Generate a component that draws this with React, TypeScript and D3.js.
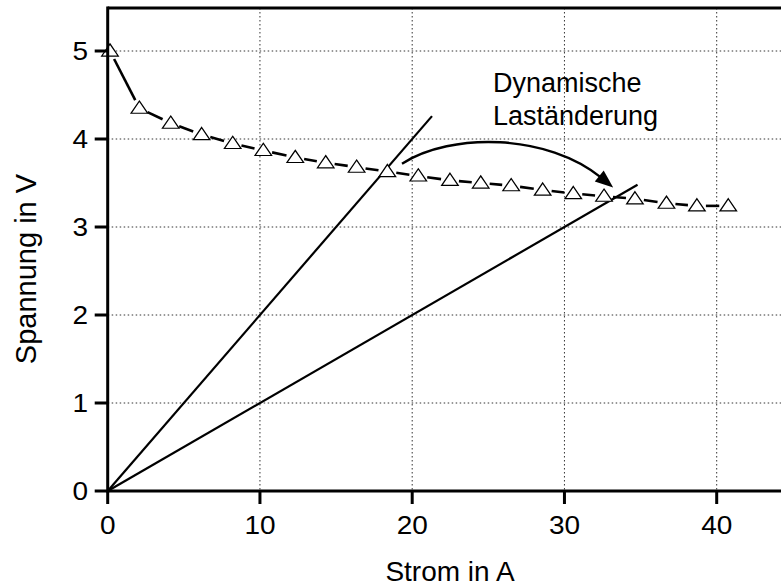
import React from "react";
import * as d3 from "d3";

// Measured battery voltage under increasing current
const currentA = [0.15, 2.08, 4.14, 6.17, 8.21, 10.22, 12.32, 14.32, 16.35, 18.37, 20.4, 22.48, 24.5, 26.5, 28.57, 30.58, 32.6, 34.63, 36.7, 38.7, 40.76];
const voltageV = [5.0, 4.35, 4.18, 4.05, 3.95, 3.87, 3.79, 3.73, 3.68, 3.63, 3.58, 3.53, 3.5, 3.47, 3.42, 3.38, 3.35, 3.32, 3.27, 3.24, 3.24];

// Load lines U = R * I, drawn from the origin up to iMax
const loadResistance = [0.2, 0.1];
const loadMaxCurrent = [21.3, 34.8];

const xTicks = [0, 10, 20, 30, 40];
const yTicks = [0, 1, 2, 3, 4, 5];

// Curved arrow for the load change (cubic Bézier in data units)
const arrowPath: [number, number][] = [
  [19.33, 3.72],
  [22.6, 4.08],
  [28.9, 4.06],
  [33.2, 3.45],
];

const annotationLines = ["Dynamische", "Laständerung"];

const W = 781;
const H = 588;
const FONT = "'Liberation Sans', Arial, Helvetica, sans-serif";

export default function App() {
  const x = d3.scaleLinear().domain([0, 40]).range([107.7, 716.7]);
  const y = d3.scaleLinear().domain([0, 5]).range([491, 51]);
  const left = x(0);
  const right = W;
  const bottom = y(0);
  const top = 8;

  const pts = currentA.map((c, i) => [x(c), y(voltageV[i])] as [number, number]);

  // connecting segments, stopped short of each symbol
  const gap = 9;
  const segs = pts.slice(1).map((p, i) => {
    const a = pts[i];
    const dx = p[0] - a[0];
    const dy = p[1] - a[1];
    const len = Math.hypot(dx, dy);
    const ux = dx / len;
    const uy = dy / len;
    return [a[0] + ux * gap, a[1] + uy * gap, p[0] - ux * gap, p[1] - uy * gap];
  });

  const tri = d3.symbol().type(d3.symbolTriangle).size(95)();

  const ap = arrowPath.map(([a, b]) => [x(a), y(b)]);
  const ang = Math.atan2(ap[3][1] - ap[2][1], ap[3][0] - ap[2][0]);
  const headLen = 18;
  const headHalf = 7;
  const tip = ap[3];
  const bx = tip[0] - Math.cos(ang) * headLen;
  const by = tip[1] - Math.sin(ang) * headLen;
  const head = [
    [tip[0], tip[1]],
    [bx - Math.sin(ang) * headHalf, by + Math.cos(ang) * headHalf],
    [bx + Math.sin(ang) * headHalf, by - Math.cos(ang) * headHalf],
  ];
  const curveEnd = `M${ap[0][0]},${ap[0][1]} C${ap[1][0]},${ap[1][1]} ${ap[2][0]},${ap[2][1]} ${bx + Math.cos(ang) * 3},${by + Math.sin(ang) * 3}`;

  return (
    <svg width={W} height={H} style={{ position: "absolute", left: 0, top: 0, background: "#fff" }} fontFamily={FONT}>
      <rect width={W} height={H} fill="#fff" />
      {/* grid */}
      {xTicks.filter((t) => t > 0).map((t) => (
        <line key={"gx" + t} x1={x(t)} x2={x(t)} y1={top} y2={bottom} stroke="#333" strokeWidth={1} strokeDasharray="1.5,2.5" />
      ))}
      {yTicks.filter((t) => t > 0).map((t) => (
        <line key={"gy" + t} x1={left} x2={right} y1={y(t)} y2={y(t)} stroke="#333" strokeWidth={1} strokeDasharray="1.5,2.5" />
      ))}

      {/* load lines */}
      {loadResistance.map((r, i) => (
        <line key={"l" + i} x1={x(0)} y1={y(0)} x2={x(loadMaxCurrent[i])} y2={y(r * loadMaxCurrent[i])} stroke="#000" strokeWidth={2.2} />
      ))}

      {/* measured curve */}
      {segs.map((s, i) => (
        <line key={"s" + i} x1={s[0]} y1={s[1]} x2={s[2]} y2={s[3]} stroke="#000" strokeWidth={2.6} />
      ))}
      {pts.map((p, i) => (
        <path key={"p" + i} d={tri} transform={`translate(${p[0]},${p[1] + 1}) scale(1.12,0.95)`} fill="#fff" stroke="#000" strokeWidth={1.2} />
      ))}

      {/* arrow */}
      <path d={curveEnd} fill="none" stroke="#000" strokeWidth={2.4} />
      <polygon points={head.map((p) => p.join(",")).join(" ")} fill="#000" />

      {/* annotation */}
      {annotationLines.map((t, i) => (
        <text key={t} x={493} y={92 + i * 33} fontSize={27} fill="#000">{t}</text>
      ))}

      {/* axes frame */}
      <line x1={left} x2={right} y1={top} y2={top} stroke="#000" strokeWidth={3} />
      <line x1={left} x2={left} y1={top - 1.5} y2={bottom + 1.5} stroke="#000" strokeWidth={3} />
      <line x1={left} x2={right} y1={bottom} y2={bottom} stroke="#000" strokeWidth={3} />

      {/* ticks and labels */}
      {xTicks.map((t) => (
        <g key={"xt" + t}>
          <line x1={x(t)} x2={x(t)} y1={bottom} y2={bottom + 13} stroke="#000" strokeWidth={3} />
          <text transform={`translate(${x(t)},534) scale(1.12,1)`} fontSize={25} textAnchor="middle">{t}</text>
        </g>
      ))}
      {yTicks.map((t) => (
        <g key={"yt" + t}>
          <line x1={left - 13} x2={left} y1={y(t)} y2={y(t)} stroke="#000" strokeWidth={3} />
          <text transform={`translate(88,${y(t) + 9}) scale(1.12,1)`} fontSize={25} textAnchor="end">{t}</text>
        </g>
      ))}

      {/* axis titles */}
      <text x={450} y={581} fontSize={28} textAnchor="middle">Strom in A</text>
      <text transform={`translate(36,269) rotate(-90)`} fontSize={29} textAnchor="middle">Spannung in V</text>
    </svg>
  );
}
